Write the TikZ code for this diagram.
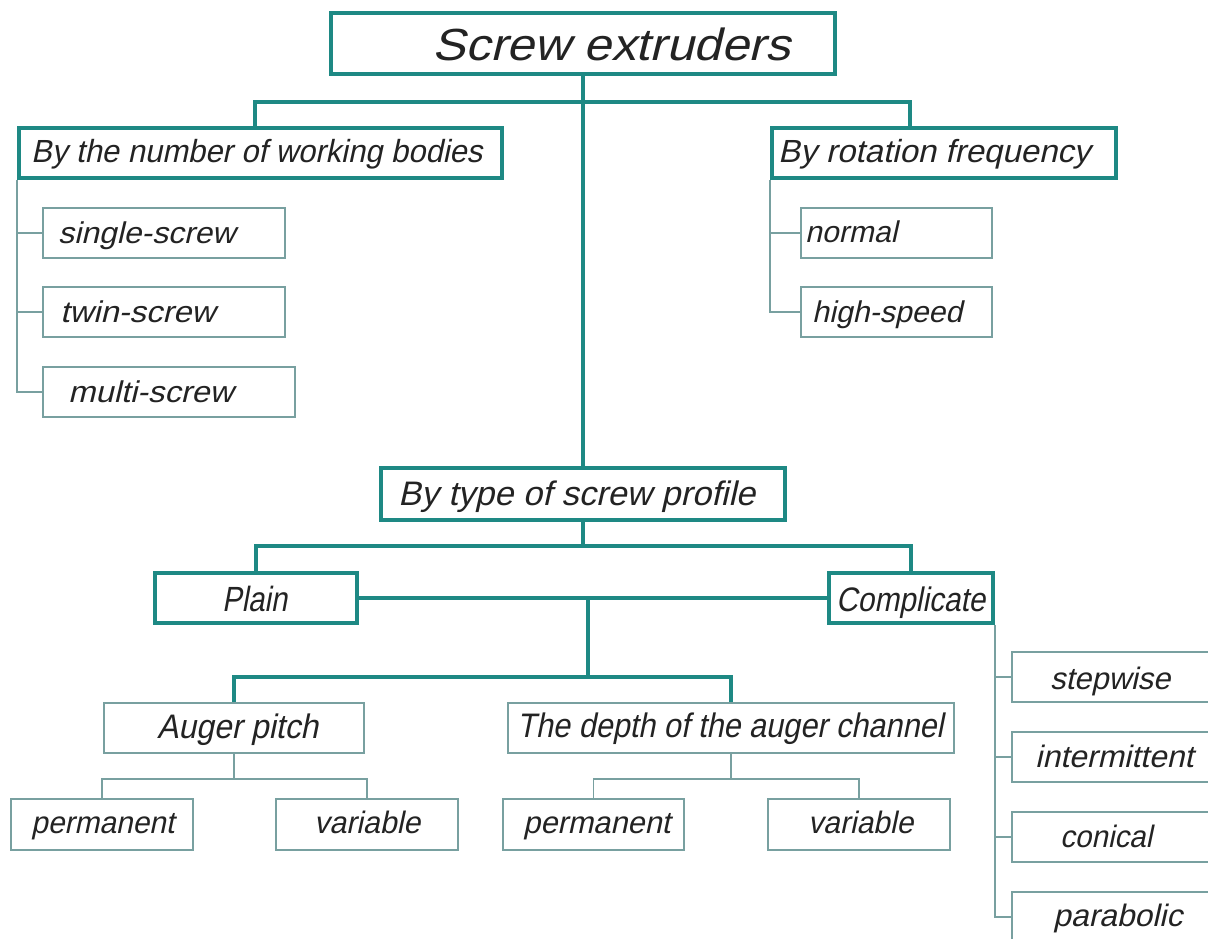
\documentclass[tikz,border=0pt]{standalone}
\usepackage{fontspec}
\usepackage{graphicx}
\setmainfont{Liberation Sans}[FakeSlant=0.22]
\definecolor{thkc}{RGB}{30,137,132}
\definecolor{thnc}{RGB}{120,160,160}
\definecolor{txtc}{RGB}{35,35,35}
\newcommand\tx[3]{\fontsize{#1}{#1}\selectfont\resizebox{#2pt}{\height}{#3}}
\tikzset{
 thkbox/.style={draw=thkc, line width=4pt, inner sep=0pt, fill=white},
 thnbox/.style={draw=thnc, line width=1.6pt, inner sep=0pt, fill=white},
 thkline/.style={draw=thkc, line width=4pt},
 thnline/.style={draw=thnc, line width=1.6pt},
 lbl/.style={anchor=base west, inner sep=0pt, text=txtc},
}
\begin{document}
\begin{tikzpicture}[x=1pt,y=-1pt]
\useasboundingbox (0,0) rectangle (1208,938);
\clip (0,0) rectangle (1208,938);
\fill[white] (0,0) rectangle (1208,938);
% boxes
\node[thkbox, minimum width=504pt, minimum height=61pt] (title) at (583,43.5) {};
\node[thkbox, minimum width=483pt, minimum height=50pt] (num) at (260.5,153) {};
\node[thkbox, minimum width=344pt, minimum height=50pt] (rot) at (944,153) {};
\node[thnbox, minimum width=242pt, minimum height=50pt] (single) at (164,233) {};
\node[thnbox, minimum width=242pt, minimum height=50pt] (twin) at (164,312) {};
\node[thnbox, minimum width=252pt, minimum height=50pt] (multi) at (169,392) {};
\node[thnbox, minimum width=191pt, minimum height=50pt] (normal) at (896.5,233) {};
\node[thnbox, minimum width=191pt, minimum height=50pt] (high) at (896.5,312) {};
\node[thkbox, minimum width=404pt, minimum height=52pt] (type) at (583,494) {};
\node[thkbox, minimum width=202pt, minimum height=50pt] (plain) at (256,598) {};
\node[thkbox, minimum width=164pt, minimum height=50pt] (complic) at (911,598) {};
\node[thnbox, minimum width=260pt, minimum height=50pt] (auger) at (234,728) {};
\node[thnbox, minimum width=446pt, minimum height=50pt] (depth) at (731,728) {};
\node[thnbox, minimum width=182pt, minimum height=51pt] (permA) at (102,824.5) {};
\node[thnbox, minimum width=182pt, minimum height=51pt] (varA) at (367,824.5) {};
\node[thnbox, minimum width=181pt, minimum height=51pt] (permB) at (593.5,824.5) {};
\node[thnbox, minimum width=182pt, minimum height=51pt] (varB) at (859,824.5) {};
\node[thnbox, minimum width=203pt, minimum height=50pt] (stepw) at (1113.5,677) {};
\node[thnbox, minimum width=203pt, minimum height=50pt] (inter) at (1113.5,757) {};
\node[thnbox, minimum width=203pt, minimum height=50pt] (conic) at (1113.5,837) {};
\node[thnbox, minimum width=203pt, minimum height=50pt] (parab) at (1113.5,917) {};
% junction coordinates
\coordinate (jl) at (255,102);
\coordinate (jr) at (910,102);
\coordinate (jt) at (583,546);
\coordinate (jm) at (588,598);
\coordinate (jb) at (588,677);
\coordinate (ja) at (234,779);
\coordinate (jd) at (731,779);
% thick connectors
\draw[thkline] (title.south) -- (type.north);
\draw[thkline] (num.north -| jl) |- (jr) -- (rot.north -| jr);
\draw[thkline] (type.south) -- (jt);
\draw[thkline] (plain.north) |- (jt) -| (complic.north);
\draw[thkline] (plain.east) -- (complic.west);
\draw[thkline] (jm) -- (jb);
\draw[thkline] (auger.north) |- (jb) -| (depth.north);
% thin connectors
\draw[thnline] (num.south west) |- (multi.west);
\draw[thnline] (single.west) -- (single.west -| num.south west);
\draw[thnline] (twin.west) -- (twin.west -| num.south west);
\draw[thnline] (rot.south west) |- (high.west);
\draw[thnline] (normal.west) -- (normal.west -| rot.south west);
\draw[thnline] (auger.south) -- (ja);
\draw[thnline] (permA.north) |- (ja) -| (varA.north);
\draw[thnline] (depth.south) -- (jd);
\draw[thnline] (permB.north) |- (jd) -| (varB.north);
\draw[thnline] (complic.south east) |- (parab.west);
\draw[thnline] (stepw.west) -- (stepw.west -| complic.south east);
\draw[thnline] (inter.west) -- (inter.west -| complic.south east);
\draw[thnline] (conic.west) -- (conic.west -| complic.south east);
% labels
\node[lbl] (titleT) at (432,60) {\tx{45}{358}{Screw extruders}};
\node[lbl] (numT) at (31,162) {\tx{32}{451}{By the number of working bodies}};
\node[lbl] (rotT) at (778,162) {\tx{32}{312}{By rotation frequency}};
\node[lbl] (singleT) at (58,243) {\tx{30}{177}{single-screw}};
\node[lbl] (twinT) at (60,322) {\tx{30}{155}{twin-screw}};
\node[lbl] (multiT) at (68,402) {\tx{30}{165}{multi-screw}};
\node[lbl] (normalT) at (805,242) {\tx{30}{92}{normal}};
\node[lbl] (highT) at (812,322) {\tx{30}{150}{high-speed}};
\node[lbl] (typeT) at (398,505) {\tx{34}{357}{By type of screw profile}};
\node[lbl] (plainT) at (222,611) {\tx{35}{65}{Plain}};
\node[lbl] (complicT) at (836,611) {\tx{34}{149}{Complicate}};
\node[lbl] (augerT) at (157,738) {\tx{34}{161}{Auger pitch}};
\node[lbl] (depthT) at (517,737) {\tx{34}{426}{The depth of the auger channel}};
\node[lbl] (permAT) at (31,833) {\tx{31}{143}{permanent}};
\node[lbl] (varAT) at (314,833) {\tx{31}{106}{variable}};
\node[lbl] (permBT) at (523,833) {\tx{31}{147}{permanent}};
\node[lbl] (varBT) at (808,833) {\tx{31}{105}{variable}};
\node[lbl] (stepwT) at (1050,689) {\tx{31}{120}{stepwise}};
\node[lbl] (interT) at (1035,767) {\tx{31}{158}{intermittent}};
\node[lbl] (conicT) at (1060,847) {\tx{31}{92}{conical}};
\node[lbl] (parabT) at (1053,926) {\tx{31}{129}{parabolic}};
\end{tikzpicture}
\end{document}
